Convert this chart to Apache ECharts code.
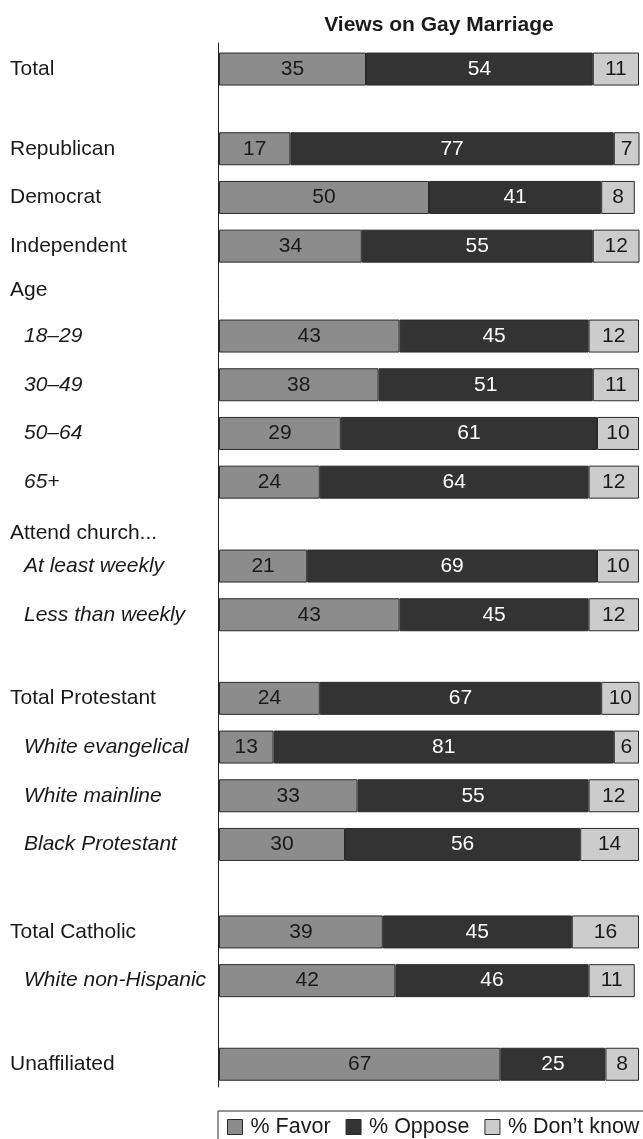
<!DOCTYPE html>
<html>
<head>
<meta charset="utf-8">
<title>Views on Gay Marriage</title>
<script src="https://cdn.jsdelivr.net/npm/echarts@6/dist/echarts.min.js"></script>
<style>
  html, body { margin: 0; padding: 0; background: #fff; }
  #chart { width: 643px; height: 1139px; }
</style>
</head>
<body>
<div id="chart"></div>
<script>
// Survey rows, top to bottom
const categories = [
  'Total',
  'Republican', 'Democrat', 'Independent',
  '18–29', '30–49', '50–64', '65+',
  'At least weekly', 'Less than weekly',
  'Total Protestant', 'White evangelical', 'White mainline', 'Black Protestant',
  'Total Catholic', 'White non-Hispanic',
  'Unaffiliated'
];
const favor    = [35, 17, 50, 34, 43, 38, 29, 24, 21, 43, 24, 13, 33, 30, 39, 42, 67];
const oppose   = [54, 77, 41, 55, 45, 51, 61, 64, 69, 45, 67, 81, 55, 56, 45, 46, 25];
const dontKnow = [11,  7,  8, 12, 12, 11, 10, 12, 10, 12, 10,  6, 12, 14, 16, 11,  8];

// Row groups (number of rows in each) and the sub-rows shown in italics
const groupSizes = [1, 3, 4, 2, 4, 2, 1];
const subRows = ['18–29', '30–49', '50–64', '65+', 'At least weekly', 'Less than weekly',
  'White evangelical', 'White mainline', 'Black Protestant', 'White non-Hispanic'];
const headers = ['Age', 'Attend church...'];
const seriesNames = ['% Favor', '% Oppose', '% Don’t know'];

// ---- layout ----
const FONT = '"Liberation Sans", Arial, Helvetica, sans-serif';
const LABEL_SIZE = 21;
const SLOT = 48.7;
const groupTops = [44.7, 124.4, 311.7, 541.7, 674.0, 907.6, 1039.9];
const headerY = [290, 533];
const PLOT_LEFT = 219, PLOT_WIDTH = 420;
const colors = ['#8c8c8c', '#333333', '#cccccc'];
const labelColors = ['#1a1a1a', '#ffffff', '#1a1a1a'];

const grid = [], xAxis = [], yAxis = [], series = [];
let start = 0;
groupSizes.forEach((n, g) => {
  const cats = categories.slice(start, start + n);
  const vals = [favor, oppose, dontKnow].map(a => a.slice(start, start + n));
  grid.push({ left: PLOT_LEFT, top: groupTops[g], width: PLOT_WIDTH, height: SLOT * n });
  xAxis.push({ gridIndex: g, type: 'value', min: 0, max: 100, show: false });
  yAxis.push({
    gridIndex: g, type: 'category', inverse: true, data: cats,
    axisLine: { show: false }, axisTick: { show: false }, splitLine: { show: false },
    axisLabel: {
      margin: PLOT_LEFT - 10, align: 'left',
      formatter: v => subRows.includes(v) ? '{s|' + v + '}' : '{m|' + v + '}',
      rich: {
        m: { fontFamily: FONT, fontSize: LABEL_SIZE, color: '#1a1a1a' },
        s: { fontFamily: FONT, fontSize: LABEL_SIZE, color: '#1a1a1a', fontStyle: 'italic', padding: [0, 0, 0, 14] }
      }
    }
  });
  vals.forEach((data, k) => {
    series.push({
      name: seriesNames[k], type: 'bar', stack: 'g' + g,
      xAxisIndex: g, yAxisIndex: g, data: data,
      barWidth: 33,
      itemStyle: { color: colors[k], borderColor: '#2a2a2a', borderWidth: 1 },
      label: {
        show: true, position: 'inside',
        fontFamily: FONT, fontSize: 21, color: labelColors[k]
      },
      emphasis: { disabled: true },
      animation: false
    });
  });
  start += n;
});

// Full-height vertical axis line running beside all the bars
const axisIdx = grid.length;
grid.push({ left: 218, top: 43, width: 10, height: 1044 });
xAxis.push({ gridIndex: axisIdx, type: 'value', show: false, min: 0, max: 1 });
yAxis.push({
  gridIndex: axisIdx, type: 'value', min: 0, max: 1,
  axisLine: { show: true, onZero: false, lineStyle: { color: '#222', width: 1 } },
  axisTick: { show: false }, axisLabel: { show: false }, splitLine: { show: false }
});

const chart = echarts.init(document.getElementById('chart'), null, { renderer: 'canvas' });
chart.setOption({
  animation: false,
  backgroundColor: '#ffffff',
  title: {
    text: 'Views on Gay Marriage',
    left: 434, top: 10, textAlign: 'center',
    textStyle: { fontFamily: FONT, fontSize: 21, fontWeight: 'bold', color: '#1a1a1a' }
  },
  legend: {
    data: seriesNames,
    left: 218, top: 1111, width: 440,
    padding: [5, 10, 8, 9],
    borderColor: '#2a2a2a', borderWidth: 1,
    itemWidth: 15, itemHeight: 15, itemGap: 15,
    icon: 'rect',
    itemStyle: { borderColor: '#2a2a2a', borderWidth: 1 },
    textStyle: { fontFamily: FONT, fontSize: 21.5, color: '#1a1a1a', padding: [0, 0, 0, 3] },
    selectedMode: false
  },
  graphic: headers.map((t, i) => ({
    type: 'text', x: 10, y: headerY[i],
    style: { text: t, fontFamily: FONT, fontSize: LABEL_SIZE, fill: '#1a1a1a', verticalAlign: 'middle' }
  })),
  grid, xAxis, yAxis, series
});
</script>
</body>
</html>
